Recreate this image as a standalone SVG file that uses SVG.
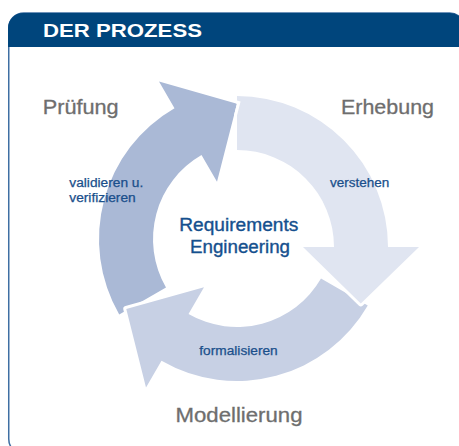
<svg xmlns="http://www.w3.org/2000/svg" width="459" height="446" viewBox="0 0 459 446">
<style>
.frame{fill:#ffffff;stroke:#3f6fa3;stroke-width:1.5}
.header{fill:#00457c}
.htxt{font-family:"Liberation Sans",Arial,sans-serif;font-weight:bold;font-size:19px;fill:#ffffff}
.arrow{stroke:#ffffff;stroke-width:6;stroke-linejoin:round;paint-order:stroke}
.a1{fill:#aab9d6}
.a2{fill:#e0e5f1}
.a3{fill:#c7d0e4}
.stage{font-family:"Liberation Sans",Arial,sans-serif;font-size:20.5px;fill:#6e6e6e;stroke:#6e6e6e;stroke-width:0.3}
.center{font-family:"Liberation Sans",Arial,sans-serif;font-size:18px;fill:#15508e;stroke:#15508e;stroke-width:0.35}
.lbl{font-family:"Liberation Sans",Arial,sans-serif;font-size:12.5px;fill:#1a4f8b;stroke:#1a4f8b;stroke-width:0.25}
</style>
<g id="frame">
<rect class="frame" x="8.75" y="13" width="456" height="441" rx="15" ry="15"/>
<path class="header" d="M8,47 V28 A15,15 0 0 1 23,13 H450 A15,15 0 0 1 465,28 V47 Z"/>
<text class="htxt" x="43" y="37" textLength="159" lengthAdjust="spacingAndGlyphs">DER PROZESS</text>
</g>
<g id="connectors">
<g id="arrow-pruefung">
<path class="arrow a1" d="M119.23,314.5 A151,151 0 0 1 174.5,108.23 L159,81.4 L236.97,103.63 L217,181.84 L201.5,155 A97,97 0 0 0 166,287.5 Z"/>
</g>
<g id="arrow-modellierung">
<path class="arrow a3" d="M367.77,305.5 A151,151 0 0 1 161.5,360.77 L146,387.6 L126.28,308.98 L204,287.16 L188.5,314 A97,97 0 0 0 321,278.5 Z"/>
</g>
<g id="arrow-erhebung">
<path class="arrow a2" d="M237,96 A151,151 0 0 1 388,247 L419,247 L360.8,303.4 L303,247 L334,247 A97,97 0 0 0 237,150 L237,115.6 L240.6,101.5 L237,100.5 Z"/>
</g>
<g id="connector-labels">
<text class="lbl" x="69.3" y="187.3" textLength="74" lengthAdjust="spacingAndGlyphs">validieren u.</text>
<text class="lbl" x="69.3" y="202.3" textLength="66.4" lengthAdjust="spacingAndGlyphs">verifizieren</text>
<text class="lbl" x="330" y="186.7" textLength="59.3" lengthAdjust="spacingAndGlyphs">verstehen</text>
<text class="lbl" x="199.3" y="354.7" textLength="78.4" lengthAdjust="spacingAndGlyphs">formalisieren</text>
</g>
</g>
<g id="node-pruefung">
<text class="stage" x="42.7" y="114" textLength="76" lengthAdjust="spacingAndGlyphs">Prüfung</text>
</g>
<g id="node-erhebung">
<text class="stage" x="341" y="113.5" textLength="93" lengthAdjust="spacingAndGlyphs">Erhebung</text>
</g>
<g id="node-modellierung">
<text class="stage" x="175.5" y="422" textLength="127" lengthAdjust="spacingAndGlyphs">Modellierung</text>
</g>
<g id="node-requirements-engineering">
<text class="center" x="179.3" y="231" textLength="119" lengthAdjust="spacingAndGlyphs">Requirements</text>
<text class="center" x="190" y="252.5" textLength="100" lengthAdjust="spacingAndGlyphs">Engineering</text>
</g>
</svg>
